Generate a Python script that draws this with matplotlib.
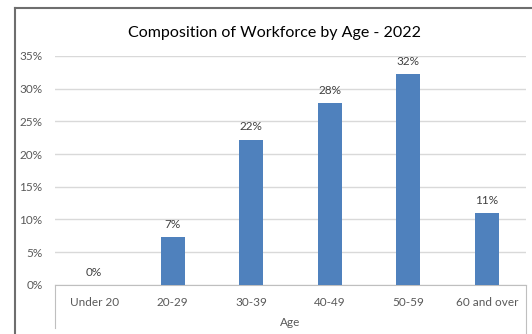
import matplotlib
matplotlib.use("Agg")
import matplotlib.pyplot as plt
from matplotlib.lines import Line2D

# data
age_groups = ["Under 20", "20-29", "30-39", "40-49", "50-59", "60 and over"]
share = [0.0, 0.073, 0.222, 0.278, 0.322, 0.109]
y_ticks = [0, 0.05, 0.10, 0.15, 0.20, 0.25, 0.30, 0.35]

plt.rcParams["font.family"] = ["Lato", "DejaVu Sans"]

W, H = 532, 334
fig = plt.figure(figsize=(W / 100, H / 100), dpi=100, facecolor="white")

# plot area in pixels: x 55..526, y 56 (35%) .. 284.7 (0%)
ax = fig.add_axes([55 / W, (H - 284.7) / H, (526 - 55) / W, (284.7 - 56) / H])

x = range(len(age_groups))
ax.bar(x, share, width=0.31, color="#4F81BD", zorder=3)

for xi, v in zip(x, share):
    ax.text(xi, v + 0.011, f"{v * 100:.0f}%", ha="center", va="bottom",
            fontsize=8.5, color="#404040")

ax.set_xlim(-0.5, len(age_groups) - 0.5)
ax.set_ylim(0, 0.35)
ax.set_yticks(y_ticks)
ax.set_yticklabels([f"{t * 100:.0f}%" for t in y_ticks])
ax.set_xticks(list(x))
ax.set_xticklabels(age_groups)
ax.tick_params(axis="both", length=0, labelsize=8.5, colors="#595959")
ax.tick_params(axis="x", pad=9)
ax.tick_params(axis="y", pad=9)
ax.grid(axis="y", color="#d9d9d9", linewidth=1, zorder=0)
for s in ["top", "right", "left"]:
    ax.spines[s].set_visible(False)
ax.spines["bottom"].set_color("#bfbfbf")
ax.set_facecolor("white")

ax.set_xlabel("Age", fontsize=8.5, color="#595959", labelpad=6)
fig.text(275 / W, 1 - 33 / H, "Composition of Workforce by Age - 2022",
         ha="center", va="center", fontsize=11.5, color="#000000")

# category axis end lines going below the axis
fig.add_artist(Line2D([55 / W, 55 / W], [(H - 284.7) / H, (H - 328) / H],
                      color="#bfbfbf", linewidth=0.8))
fig.add_artist(Line2D([526 / W, 526 / W], [(H - 284.7) / H, 0],
                      color="#bfbfbf", linewidth=0.8))

# screenshot border (left and top)
fig.add_artist(Line2D([14.5 / W, 14.5 / W], [0, 1 - 8 / H], color="#6e6e6e", linewidth=1.5))
fig.add_artist(Line2D([14.5 / W, 1], [1 - 8 / H, 1 - 8 / H], color="#6e6e6e", linewidth=1.5))

fig.savefig("out.png", dpi=100, facecolor="white")
